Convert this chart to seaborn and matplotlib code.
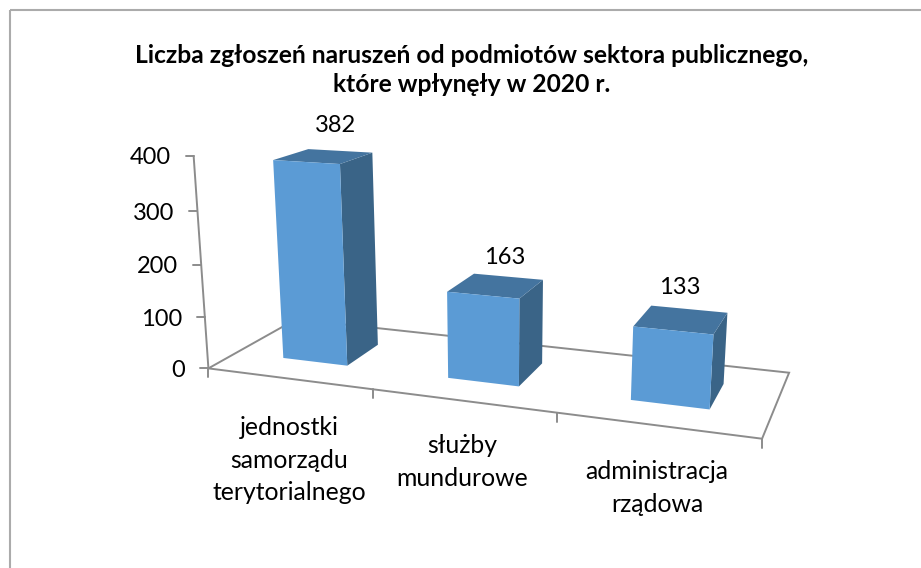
# %%
import numpy as np
import pandas as pd
import seaborn as sns
import matplotlib.pyplot as plt
from matplotlib.patches import Polygon, Rectangle
from matplotlib.transforms import Transform

categories = ['jednostki\nsamorządu\nterytorialnego', 'służby\nmundurowe', 'administracja\nrządowa']
values = [382, 163, 133]
y_ticks = [0, 100, 200, 300, 400]
title = 'Liczba zgłoszeń naruszeń od podmiotów sektora publicznego,\nktóre wpłynęły w 2020 r.'

front_col = '#5B9BD5'
top_col = '#44749F'
side_col = '#3A6487'
axis_col = '#8C8C8C'

# camera: where the corners of the 3D box land on the image (category pos, value, depth) -> pixels
cam_world = [(-0.5, 0, 0), (0.5, 0, 0), (1.5, 0, 0), (2.5, 0, 0), (2.5, 0, 1), (-0.5, 0, 1),
             (-0.5, 100, 0), (-0.5, 200, 0), (-0.5, 300, 0), (-0.5, 400, 0),
             (2.5, 400, 0), (2.5, 400, 1), (-0.5, 400, 1)]
cam_px = [(208, 368), (374, 389), (557, 412), (762, 440), (789, 373), (296, 319),
          (205, 317), (201, 265), (197, 212), (194, 160),
          (778, 185), (804, 160), (287, 127)]


def fit_camera(world, px):
    rows = []
    for (x, v, z), (u, w) in zip(world, px):
        X = [x / 3, v / 400, z, 1]
        rows.append(X + [0, 0, 0, 0] + [-u * a for a in X])
        rows.append([0, 0, 0, 0] + X + [-w * a for a in X])
    return np.linalg.svd(np.array(rows, dtype=float))[2][-1].reshape(3, 4)


cam = fit_camera(cam_world, cam_px)


def proj(x, v, z):
    h = cam @ np.array([x / 3, v / 400, z, 1.0])
    return h[0] / h[2], h[1] / h[2]


class Persp(Transform):
    # maps (category pos, value) at a fixed depth to image pixels
    input_dims = 2
    output_dims = 2

    def __init__(self, z):
        super().__init__()
        self.z = z

    def transform_non_affine(self, values):
        return np.array([proj(a, b, self.z) for a, b in values])


df = pd.DataFrame({'cat': categories, 'val': values})

sns.set_theme(style='white')
plt.rcParams['font.family'] = ['Lato', 'DejaVu Sans']

fig = plt.figure(figsize=(9.21, 5.68), dpi=100)
ax = fig.add_axes([0, 0, 1, 1])
sns.barplot(data=df, x='cat', y='val', width=0.4, color=front_col, saturation=1, ax=ax, zorder=5)
bars = list(ax.patches)
ax.set_xlim(0, 921)
ax.set_ylim(568, 0)
ax.axis('off')

# chart frame
ax.add_patch(Rectangle((9.5, 10), 930, 580, fill=False, ec='#ABABAB', lw=1.5, clip_on=False))

# floor and value axis
floor = [proj(-0.5, 0, 0), proj(2.5, 0, 0), proj(2.5, 0, 1), proj(-0.5, 0, 1)]
ax.add_patch(Polygon(floor, closed=True, fill=False, ec=axis_col, lw=1.4, zorder=1))
ax.plot(*zip(proj(-0.5, 0, 0), proj(-0.5, y_ticks[-1], 0)), color=axis_col, lw=1.4, zorder=1)
for t in y_ticks:
    px, py = proj(-0.5, t, 0)
    ax.plot([px - 8, px], [py, py], color=axis_col, lw=1.4, zorder=1)
    ax.text(px - 23, py + 2, str(t), ha='right', va='center', fontsize=17, color='black')
for c in [-0.5, 0.5, 1.5, 2.5]:
    px, py = proj(c, 0, 0)
    ax.plot([px, px], [py, py + 9], color=axis_col, lw=1.4, zorder=1)

# bars: seaborn gives the front faces, side and top are added from the same numbers
z0, z1 = 0.3, 0.7
for bar in bars:
    x0 = bar.get_x()
    x1 = x0 + bar.get_width()
    v = bar.get_height()
    bar.set_transform(Persp(z0) + ax.transData)
    bar.set_clip_on(False)
    bar.set_edgecolor('none')
    side = [proj(x1, 0, z0), proj(x1, 0, z1), proj(x1, v, z1), proj(x1, v, z0)]
    top = [proj(x0, v, z0), proj(x1, v, z0), proj(x1, v, z1), proj(x0, v, z1)]
    ax.add_patch(Polygon(side, closed=True, fc=side_col, ec='none', zorder=4))
    ax.add_patch(Polygon(top, closed=True, fc=top_col, ec='none', zorder=4))

label_pos = [(335, 125), (505, 257), (680, 287)]
for v, (lx, ly) in zip(values, label_pos):
    ax.text(lx, ly, str(v), ha='center', va='center', fontsize=17, color='black')

cat_pos = [(289, 460), (462, 462), (657, 488)]
for c, (lx, ly) in zip(categories, cat_pos):
    ax.text(lx, ly, c, ha='center', va='center', fontsize=17.8, color='black', linespacing=1.5)

ax.text(472, 70, title, ha='center', va='center', fontsize=17.7, fontweight='bold', color='black', linespacing=1.35)

fig.savefig('out.png', dpi=100)
